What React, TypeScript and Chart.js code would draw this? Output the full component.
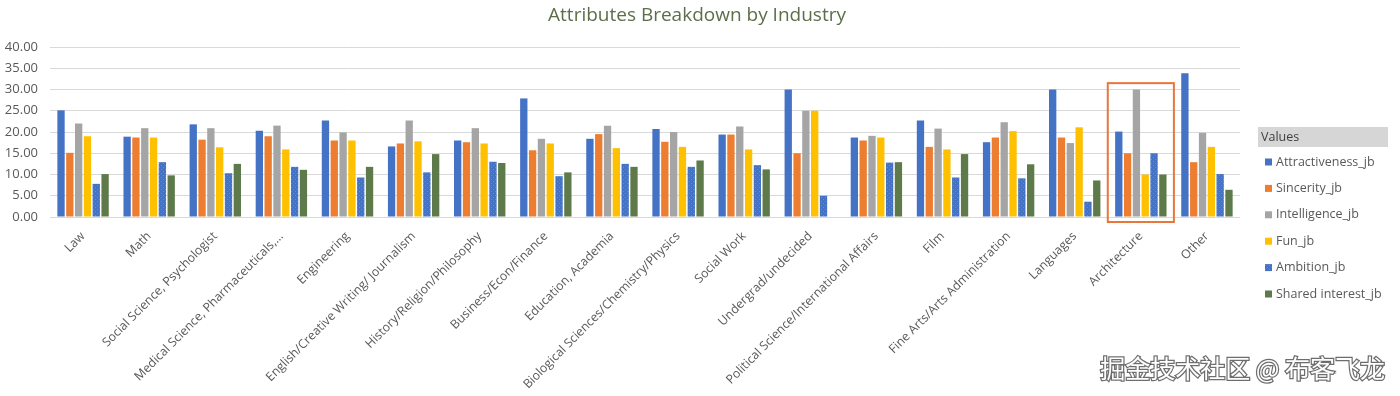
import { useEffect, useRef } from "react";
import { Chart, registerables } from "chart.js";

Chart.register(...registerables);

const categories = [
  "Law",
  "Math",
  "Social Science, Psychologist",
  "Medical Science, Pharmaceuticals,...",
  "Engineering",
  "English/Creative Writing/ Journalism",
  "History/Religion/Philosophy",
  "Business/Econ/Finance",
  "Education, Academia",
  "Biological Sciences/Chemistry/Physics",
  "Social Work",
  "Undergrad/undecided",
  "Political Science/International Affairs",
  "Film",
  "Fine Arts/Arts Administration",
  "Languages",
  "Architecture",
  "Other",
];

const attractiveness = [25.1, 18.9, 21.8, 20.3, 22.7, 16.6, 18.0, 27.9, 18.4, 20.7, 19.4, 30.0, 18.7, 22.7, 17.6, 30.0, 20.1, 33.8];
const sincerity = [15.1, 18.7, 18.2, 19.0, 18.0, 17.3, 17.6, 15.7, 19.5, 17.7, 19.4, 15.0, 18.0, 16.5, 18.7, 18.7, 15.0, 12.9];
const intelligence = [22.0, 20.9, 20.9, 21.5, 19.9, 22.7, 20.9, 18.4, 21.5, 20.0, 21.3, 25.0, 19.1, 20.8, 22.3, 17.4, 30.0, 19.8];
const fun = [19.0, 18.7, 16.4, 15.9, 18.0, 17.8, 17.3, 17.3, 16.2, 16.5, 15.9, 25.0, 18.7, 15.9, 20.2, 21.1, 10.0, 16.5];
const ambition = [7.8, 12.9, 10.3, 11.8, 9.3, 10.5, 13.0, 9.6, 12.5, 11.8, 12.2, 5.0, 12.8, 9.3, 9.1, 3.6, 15.0, 10.1];
const sharedInterest = [10.1, 9.8, 12.5, 11.1, 11.8, 14.8, 12.7, 10.5, 11.8, 13.3, 11.2, null, 12.9, 14.8, 12.4, 8.6, 10.0, 6.4];

const seriesNames = ["Attractiveness_jb", "Sincerity_jb", "Intelligence_jb", "Fun_jb", "Ambition_jb", "Shared interest_jb"];
const yTicks = [0, 5, 10, 15, 20, 25, 30, 35, 40];
const highlighted = "Architecture";
const highlightTop = 31.5;
const titleText = "Attributes Breakdown by Industry";
const legendTitle = "Values";
const watermark = "掘金技术社区 @ 布客飞龙";

function dottedPattern(base: string): CanvasPattern | string {
  const c = document.createElement("canvas");
  c.width = 4;
  c.height = 4;
  const g = c.getContext("2d");
  if (!g) return base;
  g.fillStyle = base;
  g.fillRect(0, 0, 4, 4);
  g.fillStyle = "rgba(255,255,255,0.18)";
  g.fillRect(1, 1, 1, 1);
  g.fillRect(3, 3, 1, 1);
  return g.createPattern(c, "repeat") || base;
}

export default function App() {
  const ref = useRef<HTMLCanvasElement | null>(null);

  useEffect(() => {
    if (!ref.current) return;
    const colors: any[] = ["#4472C4", "#ED7D31", "#A5A5A5", "#FFC000", dottedPattern("#4472C4"), "#5E7A4B"];
    const values = [attractiveness, sincerity, intelligence, fun, ambition, sharedInterest];
    const font = "'Open Sans', 'Noto Sans', sans-serif";

    const decor = {
      id: "decor",
      afterDatasetsDraw(chart: any) {
        const { ctx, scales } = chart;
        const x = scales.x;
        const y = scales.y;
        const i = categories.indexOf(highlighted);
        const w = x.width / categories.length;
        const cx = x.getPixelForValue(i);
        const top = y.getPixelForValue(highlightTop);
        const bottom = y.getPixelForValue(0) + 5;
        ctx.save();
        ctx.strokeStyle = "#E8773C";
        ctx.lineWidth = 2;
        ctx.strokeRect(cx - w / 2, top, w, bottom - top);
        ctx.restore();
      },
      afterDraw(chart: any) {
        const { ctx } = chart;
        ctx.save();
        ctx.font = `19px ${font}`;
        ctx.fillStyle = "#5E6E4A";
        ctx.textAlign = "center";
        ctx.textBaseline = "middle";
        ctx.fillText(titleText, 697, 16);

        const lx = 1258;
        ctx.fillStyle = "#D6D6D6";
        ctx.fillRect(lx, 127, 130, 20);
        ctx.fillStyle = "#404040";
        ctx.textAlign = "left";
        ctx.font = `12.5px ${font}`;
        ctx.fillText(legendTitle, lx + 3, 137.5);
        chart.data.datasets.forEach((ds: any, k: number) => {
          const cy = 162 + k * 26.4;
          ctx.fillStyle = ds.backgroundColor;
          ctx.fillRect(1265, cy - 3.5, 7, 7);
          ctx.fillStyle = "#595959";
          ctx.font = `12.5px ${font}`;
          ctx.fillText(ds.label, 1276, cy);
        });

        ctx.font = `25px 'Noto Sans CJK SC', sans-serif`;
        ctx.textAlign = "right";
        ctx.textBaseline = "middle";
        ctx.lineWidth = 2.5;
        ctx.strokeStyle = "rgba(60,60,60,0.75)";
        ctx.strokeText(watermark, 1385, 368);
        ctx.fillStyle = "#FFFFFF";
        ctx.fillText(watermark, 1385, 368);
        ctx.restore();
      },
    };

    const chart = new Chart(ref.current, {
      type: "bar",
      data: {
        labels: categories,
        datasets: seriesNames.map((name, k) => ({
          label: name,
          data: values[k] as any,
          backgroundColor: colors[k],
          borderWidth: 0,
          categoryPercentage: 0.8,
          barPercentage: 0.83,
        })),
      },
      options: {
        animation: false,
        responsive: false,
        devicePixelRatio: 1,
        layout: { padding: { left: 0, right: 160, top: 47, bottom: 0 } },
        plugins: {
          legend: { display: false },
          title: { display: false },
          tooltip: { enabled: false },
        },
        scales: {
          x: {
            grid: { display: false },
            border: { display: false },
            afterFit: (s: any) => {
              s.height = 179;
            },
            ticks: {
              autoSkip: false,
              minRotation: 45,
              maxRotation: 45,
              padding: 4,
              color: "#595959",
              font: { family: font, size: 12.3 },
            },
          },
          y: {
            min: 0,
            max: 40,
            afterFit: (s: any) => {
              s.width = 50;
            },
            afterBuildTicks: (s: any) => {
              s.ticks = yTicks.map((v) => ({ value: v }));
            },
            grid: { color: "#D9D9D9", drawTicks: false, lineWidth: 1 },
            border: { display: false },
            ticks: {
              padding: 12,
              color: "#595959",
              font: { family: font, size: 13 },
              callback: (v: any) => Number(v).toFixed(2),
            },
          },
        },
      },
      plugins: [decor],
    });
    return () => chart.destroy();
  }, []);

  return (
    <div style={{ position: "absolute", left: 0, top: 0, width: 1400, height: 396, background: "#fff" }}>
      <canvas ref={ref} width={1400} height={396} style={{ display: "block" }} />
    </div>
  );
}
